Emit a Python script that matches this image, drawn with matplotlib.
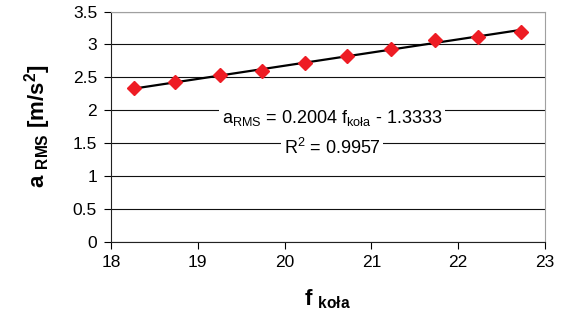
import numpy as np
import matplotlib
matplotlib.use('Agg')
import matplotlib.pyplot as plt

plt.rcParams['font.family'] = ['Liberation Sans', 'DejaVu Sans']
plt.rcParams['mathtext.fontset'] = 'custom'
plt.rcParams['mathtext.rm'] = 'Liberation Sans'
plt.rcParams['mathtext.it'] = 'Liberation Sans'
plt.rcParams['mathtext.bf'] = 'Liberation Sans:bold'

# dane
f_kola = [18.26, 18.74, 19.25, 19.74, 20.24, 20.72, 21.23, 21.73, 22.23, 22.72]
a_rms = [2.33, 2.42, 2.53, 2.60, 2.71, 2.83, 2.93, 3.07, 3.11, 3.19]

# linia trendu
slope = 0.2004
intercept = -1.3333
x_fit = np.array([min(f_kola), max(f_kola)])
y_fit = slope * x_fit + intercept

fig = plt.figure(figsize=(5.62, 3.23), dpi=100)
ax = fig.add_axes([111/562, 1 - 241.5/323, 434/562, 230/323])

ax.set_xlim(18, 23)
ax.set_ylim(0, 3.5)
ax.set_xticks(np.arange(18, 23.1, 1))
ax.set_yticks(np.arange(0, 3.51, 0.5))
ax.set_yticklabels(['0', '0.5', '1', '1.5', '2', '2.5', '3', '3.5'])
ax.grid(axis='y', color='#111111', linewidth=0.8)
ax.set_axisbelow(True)

for s in ['top', 'right']:
    ax.spines[s].set_color('#a0a0a0')
for s in ['left', 'bottom']:
    ax.spines[s].set_color('#222222')
ax.tick_params(labelsize=12.5, length=5, direction='out', pad=5)

ax.plot(x_fit, y_fit, color='black', linewidth=1.6, zorder=3)
ax.plot(f_kola, a_rms, linestyle='none', marker='D', markersize=7.5,
        color='#ee1c24', zorder=4)

ax.text(20.55, 1.88, r'a$_{\mathrm{RMS}}$ = 0.2004 f$_{\mathrm{koła}}$ - 1.3333',
        fontsize=13, ha='center', va='center', zorder=5,
        bbox=dict(facecolor='white', edgecolor='none', pad=2))
ax.text(20.55, 1.42, r'R$^2$ = 0.9957', fontsize=13, ha='center',
        va='center', zorder=5,
        bbox=dict(facecolor='white', edgecolor='none', pad=2))

ax.set_xlabel(r'$\mathbf{f}$ $_{\mathbf{koła}}$', fontsize=16, labelpad=12)
ax.set_ylabel(r'$\mathbf{a}$ $_{\mathbf{RMS}}$ $\mathbf{[m/s^2]}$', fontsize=16, labelpad=14)

fig.savefig('out.png', dpi=100)
